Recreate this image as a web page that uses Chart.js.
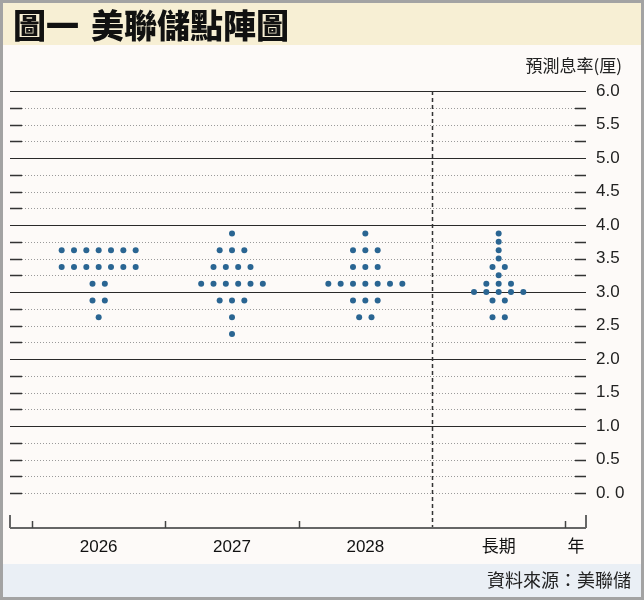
<!DOCTYPE html>
<html>
<head>
<meta charset="utf-8">
<script src="https://cdn.jsdelivr.net/npm/chart.js@4"></script>
<style>
  body { margin: 0; background: #fff; }
  canvas { display: block; }
</style>
</head>
<body>
<canvas id="dotPlot" width="644" height="600"></canvas>
<script>
// fed dot plot - counts of dots per rate level, per year

const categories = ['2026', '2027', '2028', '長期'];
const rates = [3.875, 3.75, 3.625, 3.5, 3.375, 3.25, 3.125, 3.0, 2.875, 2.625, 2.375];
const counts2026 = [0, 0, 7, 0, 7, 0, 2, 0, 2, 1, 0];
const counts2027 = [1, 0, 3, 0, 4, 0, 6, 0, 3, 1, 1];
const counts2028 = [1, 0, 3, 0, 3, 0, 7, 0, 3, 2, 0];
const countsLong = [1, 1, 1, 1, 2, 1, 3, 5, 2, 2, 0];
const yTickValues = [0, 0.5, 1, 1.5, 2, 2.5, 3, 3.5, 4, 4.5, 5, 5.5, 6];
const yTickLabels = ['0. 0', '0.5', '1.0', '1.5', '2.0', '2.5', '3.0', '3.5', '4.0', '4.5', '5.0', '5.5', '6.0'];

const allCounts = [counts2026, counts2027, counts2028, countsLong];
const DOT_STEP = 0.0925; // horizontal spacing between dots in one row (x units)

// spread each row of dots around the category centre
function buildPoints() {
  const pts = [];
  allCounts.forEach((counts, ci) => {
    counts.forEach((n, ri) => {
      for (let k = 0; k < n; k++) {
        pts.push({ x: ci + (k - (n - 1) / 2) * DOT_STEP, y: rates[ri] });
      }
    });
  });
  return pts;
}

const FONT = "'Liberation Sans', Arial, 'Noto Sans CJK TC', sans-serif";
const CJK = "'Noto Sans CJK TC', 'Liberation Sans', sans-serif";

// frame, bands, grid and axis decorations
const framePlugin = {
  id: 'frame',
  beforeDraw(chart) {
    const ctx = chart.ctx;
    const W = chart.width, H = chart.height;
    ctx.save();
    ctx.fillStyle = '#a3a3a3';
    ctx.fillRect(0, 0, W, H);
    ctx.fillStyle = '#fdfaf8';
    ctx.fillRect(3, 3, W - 6, H - 6);
    // title band
    ctx.fillStyle = '#f7efd4';
    ctx.fillRect(3, 3, W - 6, 42);
    // footer band
    ctx.fillStyle = '#eaeff5';
    ctx.fillRect(3, 564, W - 6, H - 567);

    ctx.fillStyle = '#111';
    ctx.textBaseline = 'middle';
    ctx.font = "900 33px 'Noto Sans CJK TC', serif";
    ctx.textAlign = 'left';
    ctx.fillText('圖一', 13, 25);
    ctx.fillText('美聯儲點陣圖', 91, 25);

    ctx.font = '17px ' + CJK;
    ctx.textAlign = 'right';
    ctx.fillStyle = '#222';
    ctx.fillText('預測息率(厘)', 622, 66);

    ctx.font = '18px ' + CJK;
    ctx.fillText('資料來源：美聯儲', 631, 580);
    ctx.restore();
  },
  beforeDatasetsDraw(chart) {
    const ctx = chart.ctx;
    const x = chart.scales.x, y = chart.scales.y;
    const area = chart.chartArea;
    const L = area.left, R = area.right;
    ctx.save();
    for (let v = 0; v <= 6.001; v += 0.25) {
      const py = Math.round(y.getPixelForValue(v)) + 0.5;
      const isMajor = v > 0 && Math.abs(v - Math.round(v)) < 1e-6;
      if (isMajor) {
        ctx.strokeStyle = '#2a2a2a';
        ctx.lineWidth = 1.2;
        ctx.setLineDash([]);
        ctx.beginPath();
        ctx.moveTo(L, py);
        ctx.lineTo(R, py);
        ctx.stroke();
      } else {
        ctx.strokeStyle = '#9a9a9a';
        ctx.lineWidth = 1;
        ctx.setLineDash([1, 2]);
        ctx.beginPath();
        ctx.moveTo(L + 12, py);
        ctx.lineTo(R - 11, py);
        ctx.stroke();
        ctx.setLineDash([]);
        ctx.strokeStyle = '#333';
        ctx.lineWidth = 1.5;
        ctx.beginPath();
        ctx.moveTo(L, py);
        ctx.lineTo(L + 12, py);
        ctx.moveTo(R - 11, py);
        ctx.lineTo(R, py);
        ctx.stroke();
      }
    }

    // dashed divider before long run
    const dx = Math.round(x.getPixelForValue(2.5)) + 0.5;
    ctx.strokeStyle = '#333';
    ctx.lineWidth = 1.5;
    ctx.setLineDash([4, 3]);
    ctx.beginPath();
    ctx.moveTo(dx, area.top);
    ctx.lineTo(dx, area.bottom);
    ctx.stroke();
    ctx.setLineDash([]);

    // bottom axis
    const by = area.bottom;
    ctx.strokeStyle = '#666';
    ctx.lineWidth = 2;
    ctx.beginPath();
    ctx.moveTo(L, by);
    ctx.lineTo(R, by);
    ctx.moveTo(L, by - 13);
    ctx.lineTo(L, by);
    ctx.moveTo(R, by - 13);
    ctx.lineTo(R, by);
    ctx.stroke();
    ctx.strokeStyle = '#444';
    ctx.lineWidth = 1.5;
    [-0.5, 0.5, 1.5, 3.5].forEach(v => {
      const px = Math.round(x.getPixelForValue(v)) + 0.5;
      ctx.beginPath();
      ctx.moveTo(px, by - 7);
      ctx.lineTo(px, by);
      ctx.stroke();
    });

    ctx.fillStyle = '#111';
    ctx.font = '17px ' + CJK;
    ctx.textAlign = 'center';
    ctx.textBaseline = 'middle';
    ctx.fillText('年', 576, 546);
    ctx.restore();
  }
};

new Chart(document.getElementById('dotPlot'), {
  type: 'scatter',
  data: {
    datasets: [{
      data: buildPoints(),
      backgroundColor: '#2a6592',
      borderWidth: 0,
      pointRadius: 3,
      pointHoverRadius: 3
    }]
  },
  options: {
    responsive: false,
    animation: false,
    devicePixelRatio: 1,
    layout: { padding: { top: 91, left: 10, right: 0, bottom: 0 } },
    plugins: {
      legend: { display: false },
      tooltip: { enabled: false }
    },
    scales: {
      x: {
        type: 'linear',
        min: -0.665,
        max: 3.655,
        afterBuildTicks: s => { s.ticks = categories.map((c, i) => ({ value: i })); },
        afterFit: s => { s.height = 72; },
        grid: { display: false, drawTicks: false },
        border: { display: false },
        ticks: {
          autoSkip: false,
          maxRotation: 0,
          padding: 9,
          color: '#111',
          font: { family: FONT, size: 17 },
          callback: (v, i) => categories[i]
        }
      },
      y: {
        position: 'right',
        min: -0.52,
        max: 6,
        afterBuildTicks: s => { s.ticks = yTickValues.map(v => ({ value: v })); },
        afterFit: s => { s.width = 58; },
        grid: { display: false, drawTicks: false },
        border: { display: false },
        ticks: {
          autoSkip: false,
          padding: 10,
          color: '#222',
          font: { family: FONT, size: 17 },
          callback: (v, i) => yTickLabels[i]
        }
      }
    }
  },
  plugins: [framePlugin]
});
</script>
</body>
</html>
